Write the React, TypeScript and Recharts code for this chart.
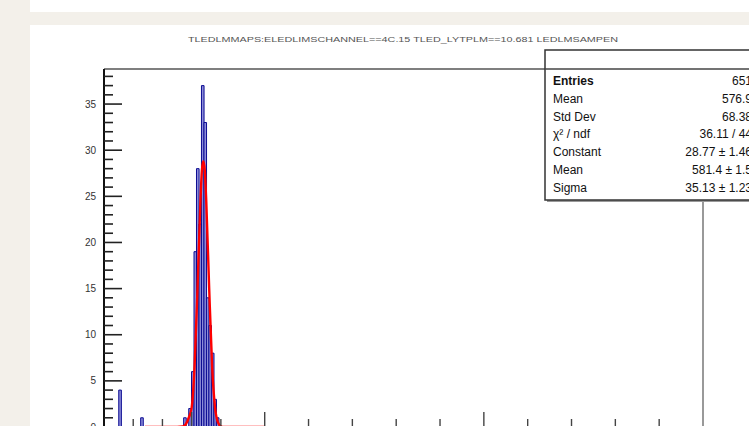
import { ComposedChart, Bar, Line, XAxis, YAxis, ReferenceLine } from 'recharts'

const binCenters = [10, 160, 454, 489, 508, 525, 542, 559, 576, 593, 610, 627, 644, 661, 678]
const binCounts = [4, 1, 1, 2, 6, 19, 28, 22, 37, 33, 14, 11, 8, 3, 1]

const fitX = [180, 400, 440, 460, 480, 500, 520, 540, 560, 570, 580, 590, 600, 620, 640, 660, 680, 700, 720, 1000]
const fitY = [0, 0, 0.05, 0.3, 1.0, 2.1, 6.6, 15, 24.4, 27.8, 28.8, 27.8, 24.4, 15, 6.6, 2.1, 0.5, 0.08, 0, 0]

const xTicks = Array.from({ length: 42 }, (_, i) => -100 + i * 100)
const yTicks = Array.from({ length: 39 }, (_, i) => i)

const statLabels = ['Entries', 'Mean', 'Std Dev', 'χ² / ndf', 'Constant', 'Mean', 'Sigma']
const statValues = ['651', '576.9', '68.38', '36.11 / 44', '28.77 ± 1.46', '581.4 ± 1.5', '35.13 ± 1.23']

const title = 'TLEDLMMAPS:ELEDLIMSCHANNEL==4C.15 TLED_LYTPLM==10.681 LEDLMSAMPEN'

const font = '"Liberation Sans", Arial, sans-serif'

const rows = (() => {
  const map = new Map<number, { x: number; count?: number; fit?: number }>()
  binCenters.forEach((x, i) => map.set(x, { ...(map.get(x) ?? { x }), count: binCounts[i] }))
  fitX.forEach((x, i) => map.set(x, { ...(map.get(x) ?? { x }), fit: fitY[i] }))
  return [...map.values()].sort((a, b) => a.x - b.x)
})()

function YTick(props: any) {
  const { x, y, payload } = props
  const v = payload.value as number
  const major = v % 5 === 0
  return (
    <g>
      <line x1={x} y1={y} x2={x + (major ? 18 : 9)} y2={y} stroke="#222" strokeWidth={1.6} />
      {major && (
        <text x={x - 8} y={y + 3.5} textAnchor="end" fontSize={10} fill="#333" fontFamily={font}>
          {v}
        </text>
      )}
    </g>
  )
}

function XTick(props: any) {
  const { x, y, payload } = props
  const v = payload.value as number
  if (v <= -100 || v >= 4000) return null
  const major = v % 500 === 0
  return <line x1={x} y1={y} x2={x} y2={y - (major ? 15 : 8)} stroke="#444" strokeWidth={1.4} />
}

// histogram bin drawn ROOT-style: outline with a pale inside
function BinShape(props: any) {
  const { x, y, width, height } = props
  if (!height || height <= 0) return null
  const cx = x + width / 2
  const l = cx - 1.3
  const r = cx + 1.3
  const b = y + height
  return (
    <g>
      <rect x={l} y={y} width={2.6} height={height} fill="#8c8cd8" />
      <path d={`M${l},${b}V${y}H${r}V${b}`} fill="none" stroke="#0b0b92" strokeWidth={1} />
    </g>
  )
}

export default function App() {
  return (
    <div style={{ position: 'fixed', left: 0, top: 0, width: 749, height: 426, overflow: 'hidden', background: '#fff' }}>
      <div style={{ position: 'absolute', left: 0, top: 0, width: 30, height: 426, background: '#f3f0ea' }} />
      <div style={{ position: 'absolute', left: 30, top: 12, width: 719, height: 13, background: '#f3f0ea' }} />
      <div style={{ position: 'absolute', left: 0, top: 0 }}>
        <ComposedChart width={749} height={470} data={rows} margin={{ top: 69, right: 46, left: 44, bottom: 13 }}>
          <XAxis
            type="number"
            dataKey="x"
            domain={[-100, 4000]}
            ticks={xTicks}
            height={30}
            tickSize={0}
            tickMargin={0}
            tick={<XTick />}
            axisLine={{ stroke: '#111', strokeWidth: 2 }}
            allowDataOverflow
          />
          <YAxis
            type="number"
            domain={[0, 38.8]}
            ticks={yTicks}
            width={60}
            tickSize={0}
            tickMargin={0}
            tick={<YTick />}
            interval={0}
            axisLine={{ stroke: '#111', strokeWidth: 2 }}
            allowDataOverflow
          />
          <ReferenceLine y={38.8} stroke="#555" strokeWidth={1.6} />
          <ReferenceLine x={4000} stroke="#999" strokeWidth={2} />
          <Bar dataKey="count" fill="#10109a" barSize={3} shape={<BinShape />} isAnimationActive={false} />
          <Line
            dataKey="fit"
            type="monotone"
            stroke="#ff0000"
            strokeWidth={2.4}
            dot={false}
            connectNulls
            isAnimationActive={false}
          />
        </ComposedChart>
      </div>
      <svg width={749} height={426} style={{ position: 'absolute', left: 0, top: 0 }}>
        <text x={188} y={42} fontSize={7} fill="#555" fontFamily={font} textLength={430} lengthAdjust="spacingAndGlyphs">
          {title}
        </text>
        <rect x={547} y={52} width={230} height={150} fill="#999" />
        <rect x={545} y={50} width={230} height={150} fill="#fff" stroke="#333" strokeWidth={1.5} />
        <line x1={545} y1={69} x2={775} y2={69} stroke="#444" strokeWidth={1.4} />
        {statLabels.map((l, i) => (
          <g key={i}>
            <text x={553} y={85 + i * 17.8} fontSize={12} fill="#111" fontFamily={font} fontWeight={i === 0 ? 700 : 400}>
              {l}
            </text>
            <text x={752} y={85 + i * 17.8} fontSize={12} fill="#111" fontFamily={font} textAnchor="end">
              {statValues[i]}
            </text>
          </g>
        ))}
      </svg>
    </div>
  )
}
